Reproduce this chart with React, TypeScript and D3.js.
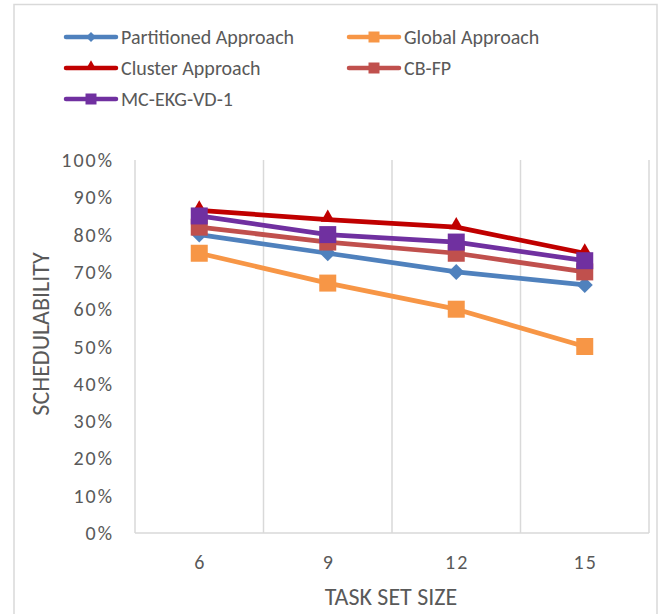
import React from "react";
import * as d3 from "d3";

const categories = ["6", "9", "12", "15"];
const partitioned = [0.8, 0.75, 0.7, 0.665];
const global = [0.75, 0.67, 0.6, 0.5];
const cluster = [0.865, 0.84, 0.82, 0.75];
const cbfp = [0.82, 0.78, 0.75, 0.7];
const mcEkg = [0.85, 0.8, 0.78, 0.73];
const yTicks = [0, 0.1, 0.2, 0.3, 0.4, 0.5, 0.6, 0.7, 0.8, 0.9, 1.0];

type Shape = "diamond" | "square" | "triangle";
const series: { name: string; values: number[]; color: string; shape: Shape }[] = [
  { name: "Partitioned Approach", values: partitioned, color: "#4F81BD", shape: "diamond" },
  { name: "Global Approach", values: global, color: "#F79646", shape: "square" },
  { name: "Cluster Approach", values: cluster, color: "#C00000", shape: "triangle" },
  { name: "CB-FP", values: cbfp, color: "#C0504D", shape: "square" },
  { name: "MC-EKG-VD-1", values: mcEkg, color: "#7030A0", shape: "square" },
];

const W = 663;
const H = 614;
const plot = { left: 135, right: 649, top: 160, bottom: 533 };
const font = "Carlito, 'Open Sans', 'Noto Sans', sans-serif";
const textColor = "#595959";

// width: overall pixel width of the marker
function Marker({ shape, x, y, color, width }: { shape: Shape; x: number; y: number; color: string; width: number }) {
  let sym: d3.SymbolType;
  let area: number;
  if (shape === "square") {
    sym = d3.symbolSquare2;
    area = Math.pow(width / (2 * 0.4431), 2);
  } else if (shape === "diamond") {
    sym = d3.symbolDiamond2;
    area = Math.pow(width / (2 * 0.62625), 2);
  } else {
    sym = d3.symbolTriangle2;
    area = Math.pow(width / (0.6824 * Math.sqrt(3)), 2);
  }
  const path = d3.symbol(sym, area)()!;
  const ty = shape === "triangle" ? -2 : 0;
  return <path d={path} transform={`translate(${x},${y + ty})`} fill={color} />;
}

export default function App() {
  const x = d3.scaleBand<string>().domain(categories).range([plot.left, plot.right]);
  const y = d3.scaleLinear().domain([0, 1]).range([plot.bottom, plot.top]);
  const line = d3
    .line<number>()
    .x((_, i) => x(categories[i])! + x.bandwidth() / 2)
    .y((d) => y(d));
  const fmt = d3.format(".0%");

  const gridXs = [...categories.map((c) => x(c)!), plot.right];

  const legendPos = [
    { lx: 66, ty: 37 },
    { lx: 349, ty: 37 },
    { lx: 66, ty: 68 },
    { lx: 349, ty: 68 },
    { lx: 66, ty: 99 },
  ];

  const plotWidth = (s: Shape) => (s === "square" ? 17 : s === "diamond" ? 16 : 14);
  const legendWidth = (s: Shape) => (s === "square" ? 11 : s === "diamond" ? 10 : 10);

  return (
    <svg
      width={W}
      height={H}
      style={{ position: "absolute", left: 0, top: 0, background: "#fff" }}
      fontFamily={font}
    >
      <rect x={14} y={4.5} width={643} height={H + 10} fill="#fff" stroke="#D9D9D9" strokeWidth={1.5} />

      {/* vertical gridlines between categories */}
      {gridXs.map((gx, i) => (
        <line key={i} x1={gx} x2={gx} y1={plot.top} y2={plot.bottom} stroke="#D9D9D9" strokeWidth={1.5} />
      ))}
      <line x1={plot.left} x2={plot.right} y1={plot.bottom} y2={plot.bottom} stroke="#D9D9D9" strokeWidth={1.5} />

      {/* y tick labels */}
      {yTicks.map((t) => (
        <text key={t} x={114} y={y(t)} dy="0.35em" textAnchor="end" fontSize={20} letterSpacing={2} fill={textColor}>
          {fmt(t)}
        </text>
      ))}

      {/* x tick labels */}
      {categories.map((c) => (
        <text
          key={c}
          x={x(c)! + x.bandwidth() / 2 + 1}
          y={562}
          dy="0.35em"
          textAnchor="middle"
          fontSize={20}
          fill={textColor}
          letterSpacing={2}
        >
          {c}
        </text>
      ))}

      <text x={391} y={597} dy="0.35em" textAnchor="middle" fontSize={24} fill={textColor}>
        TASK SET SIZE
      </text>
      <text
        transform={`translate(41,334) rotate(-90)`}
        dy="0.35em"
        textAnchor="middle"
        fontSize={24}
        fill={textColor}
      >
        SCHEDULABILITY
      </text>

      {/* series lines and markers */}
      {series.map((s) => (
        <g key={s.name}>
          <path d={line(s.values)!} fill="none" stroke={s.color} strokeWidth={4.75} strokeLinejoin="round" strokeLinecap="round" />
          {s.values.map((v, i) => (
            <Marker
              key={i}
              shape={s.shape}
              x={x(categories[i])! + x.bandwidth() / 2}
              y={y(v)}
              color={s.color}
              width={plotWidth(s.shape)}
            />
          ))}
        </g>
      ))}

      {/* legend */}
      {series.map((s, i) => {
        const p = legendPos[i];
        return (
          <g key={s.name}>
            <line x1={p.lx} x2={p.lx + 50} y1={p.ty} y2={p.ty} stroke={s.color} strokeWidth={4.5} strokeLinecap="round" />
            <Marker shape={s.shape} x={p.lx + 25} y={p.ty} color={s.color} width={legendWidth(s.shape)} />
            <text x={p.lx + 55} y={p.ty} dy="0.35em" fontSize={20} fill={textColor}>
              {s.name}
            </text>
          </g>
        );
      })}
    </svg>
  );
}
